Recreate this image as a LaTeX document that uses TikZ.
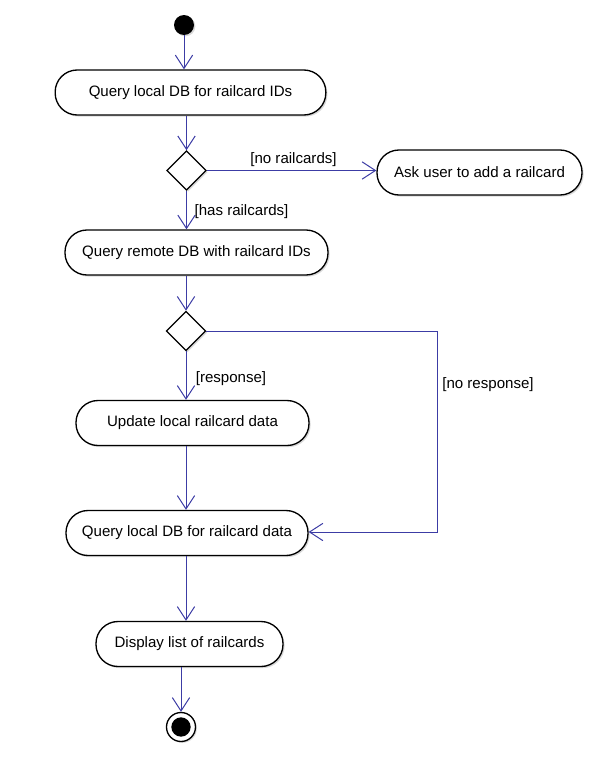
\documentclass[tikz,border=0pt]{standalone}
\usepackage{fontspec}
\setmainfont{Liberation Sans}
\usetikzlibrary{arrows.meta,shapes.geometric,shadows}
\definecolor{flowblue}{RGB}{60,60,165}
\begin{document}
\begin{tikzpicture}[x=0.75pt,y=-0.75pt,
  every node/.style={font=\fontsize{11.3}{13.5}\selectfont},
  action/.style={draw=black,line width=1pt,fill=white,rounded corners=16.5pt,
    minimum height=33.75pt,inner sep=2pt,
    drop shadow={shadow xshift=1.2pt,shadow yshift=-1.2pt,fill=black!25,opacity=0.6}},
  decision/.style={diamond,draw=black,line width=0.9pt,fill=white,aspect=1,
    minimum size=29.5pt,inner sep=0pt,
    drop shadow={shadow xshift=1.2pt,shadow yshift=-1.2pt,fill=black!25,opacity=0.6}},
  flow/.style={draw=flowblue,line width=0.75pt,-{Straight Barb[length=10pt,width=13pt,line width=0.75pt]}},
  guard/.style={inner sep=0pt}]
\useasboundingbox (0,0) rectangle (611,771);

% initial and final states
\node[circle,fill=black,minimum size=15pt,inner sep=0pt,
  drop shadow={shadow xshift=1pt,shadow yshift=-1pt,fill=black!25,opacity=0.6}] (start) at (184,25) {};
\node[circle,draw=black,line width=1pt,fill=white,minimum size=21.75pt,inner sep=0pt,
  drop shadow={shadow xshift=1pt,shadow yshift=-1pt,fill=black!25,opacity=0.6}] (final) at (181,727) {};
\node[circle,fill=black,minimum size=14.5pt,inner sep=0pt] (finaldot) at (final) {};

% actions
\node[action,minimum width=203pt] (qids) at (190.5,92.5) {Query local DB for railcard IDs};
\node[decision] (d1) at (186.5,170.5) {};
\node[action,minimum width=153.75pt] (ask) at (479.5,172.5) {Ask user to add a railcard};
\node[action,minimum width=197.25pt] (qremote) at (196.5,252.5) {Query remote DB with railcard IDs};
\node[decision] (d2) at (186,331) {};
\node[action,minimum width=174.75pt] (update) at (192.5,423) {Update local railcard data};
\node[action,minimum width=181.5pt] (qdata) at (187,533) {Query local DB for railcard data};
\node[action,minimum width=140.25pt] (show) at (189.5,644) {Display list of railcards};

% corner of the [no response] path
\coordinate (nrtop) at (437,331);
\coordinate (nrbot) at (437,532);

% connectors
\draw[flow] (start) -- (start |- qids.north);
\draw[flow] (qids.south -| d1) -- (d1.north);
\draw[flow] (d1.east) -- (ask.west |- d1.east);
\draw[flow] (d1.south) -- (qremote.north -| d1);
\draw[flow] (qremote.south -| d2) -- (d2.north);
\draw[flow] (d2.south) -- (update.north -| d2);
\draw[flow] (d2.east) -- (nrtop) -- (nrbot) -- (qdata.east |- nrbot);
\draw[flow] (update.south -| d2) -- (qdata.north -| d2);
\draw[flow] (qdata.south -| d2) -- (show.north -| d2);
\draw[flow] (show.south -| final) -- (final.north);

% guards
\node[guard] (gno) at (293.5,160) {[no railcards]};
\node[guard] (ghas) at (241.5,212) {[has railcards]};
\node[guard] (gresp) at (231,379) {[response]};
\node[guard] (gnoresp) at (488,385) {[no response]};
\end{tikzpicture}
\end{document}
